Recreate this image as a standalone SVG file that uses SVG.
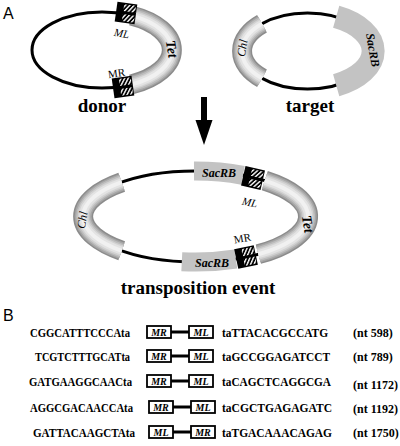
<svg xmlns="http://www.w3.org/2000/svg" xmlns:xlink="http://www.w3.org/1999/xlink" width="400" height="446" viewBox="0 0 400 446">
<style>
text{font-family:"Liberation Serif","Times New Roman",serif;fill:#000}
.lbl{font-family:"Liberation Sans",Arial,sans-serif;font-size:16px}
.big{font-size:19px;font-weight:bold;text-anchor:middle}
.gene{font-size:12px;font-style:italic;font-weight:bold;text-anchor:middle}
.mk{font-size:11px;text-anchor:middle}
.seq{font-size:12px;font-weight:bold}
.bx{fill:#fff;stroke:#000;stroke-width:1.8}
.bt{font-size:10px;font-style:italic;font-weight:bold;text-anchor:middle}
.ring{fill:none;stroke:#000;stroke-width:3}
.t1{fill:none;stroke:#8c8c8c;stroke-width:20}
.t2{fill:none;stroke:#a6a6a6;stroke-width:17}
.t3{fill:none;stroke:#bdbdbd;stroke-width:14}
.t4{fill:none;stroke:#d2d2d2;stroke-width:11}
.t5{fill:none;stroke:#e3e3e3;stroke-width:8}
.t6{fill:none;stroke:#f1f1f1;stroke-width:4}
.flat{fill:none;stroke:#c3c3c3}
.link{stroke:#000;stroke-width:3}
</style>
<defs>
<pattern id="hatch" patternUnits="userSpaceOnUse" width="3.2" height="3.2" patternTransform="rotate(35)">
<rect width="3.2" height="3.2" fill="#000"/>
<rect width="1.4" height="3.2" fill="#fff"/>
</pattern>
<g id="hbox">
<rect x="-10" y="-10" width="20" height="20" fill="#000"/>
<rect x="-3" y="-8.5" width="12" height="7" fill="url(#hatch)"/>
<rect x="-3" y="1.5" width="12" height="7" fill="url(#hatch)"/>
</g>
<path id="dTet" d="M131.6,15.6 A70,38 0 0 1 131.6,84.4"/>
<path id="tChl" d="M262,23.7 A65.5,38 0 0 0 262,78.3"/>
<path id="eChl" d="M121.7,182.2 A112.5,45.5 0 0 0 121.7,250.8"/>
<path id="eTet" d="M264.8,180.6 A112.5,45.5 0 0 1 258.4,254.2"/>
</defs>
<rect width="400" height="446" fill="#fff"/>
<text class="lbl" x="3" y="19">A</text>
<text class="lbl" x="3" y="321">B</text>

<g id="donor">
<ellipse class="ring" cx="102" cy="50" rx="70" ry="38"/>
<use xlink:href="#dTet" class="t1"/><use xlink:href="#dTet" class="t2"/><use xlink:href="#dTet" class="t3"/>
<use xlink:href="#dTet" class="t4"/><use xlink:href="#dTet" class="t5"/><use xlink:href="#dTet" class="t6"/>
<use xlink:href="#hbox" transform="translate(126,13) rotate(8)"/>
<use xlink:href="#hbox" transform="translate(123,87) rotate(-8)"/>
<text class="mk" font-style="italic" transform="translate(121,37) rotate(10)">ML</text>
<text class="mk" transform="translate(117,77) rotate(-8)">MR</text>
<text class="gene" font-size="14" transform="translate(172,49) rotate(80)" dy="0.35em" style="font-size:14px">Tet</text>
<text class="big" x="102" y="112">donor</text>
</g>

<g id="target">
<ellipse class="ring" cx="307.5" cy="51" rx="65.5" ry="38"/>
<use xlink:href="#tChl" class="t1"/><use xlink:href="#tChl" class="t2"/><use xlink:href="#tChl" class="t3"/>
<use xlink:href="#tChl" class="t4"/><use xlink:href="#tChl" class="t5"/><use xlink:href="#tChl" class="t6"/>
<path class="flat" stroke-width="23" d="M336.2,16.8 A65.5,38 0 0 1 336.2,85.2"/>
<text class="gene" style="font-weight:normal" transform="translate(242,48) rotate(-80)" dy="0.35em">Chl</text>
<text class="gene" transform="translate(373,50) rotate(80)" dy="0.35em">SacRB</text>
<text class="big" x="310" y="112">target</text>
</g>

<g id="transposition">
<ellipse class="ring" cx="195.5" cy="216.5" rx="112.5" ry="45.5"/>
<use xlink:href="#eChl" class="t1"/><use xlink:href="#eChl" class="t2"/><use xlink:href="#eChl" class="t3"/>
<use xlink:href="#eChl" class="t4"/><use xlink:href="#eChl" class="t5"/><use xlink:href="#eChl" class="t6"/>
<use xlink:href="#eTet" class="t1"/><use xlink:href="#eTet" class="t2"/><use xlink:href="#eTet" class="t3"/>
<use xlink:href="#eTet" class="t4"/><use xlink:href="#eTet" class="t5"/><use xlink:href="#eTet" class="t6"/>
<path class="flat" stroke-width="19" d="M194,171 A112.5,45.5 0 0 1 243,175.3"/>
<path class="flat" stroke-width="19" d="M235.8,259 A112.5,45.5 0 0 1 181.8,261.7"/>
<use xlink:href="#hbox" transform="translate(253,178) rotate(13)"/>
<use xlink:href="#hbox" transform="translate(246,257) rotate(-12)"/>
<text class="gene" x="219" y="177">SacRB</text>
<text class="gene" x="212" y="267">SacRB</text>
<text class="mk" font-style="italic" transform="translate(249,206) rotate(12)">ML</text>
<text class="mk" transform="translate(243,242) rotate(-10)">MR</text>
<text class="gene" style="font-size:14px" transform="translate(308,224) rotate(80)" dy="0.35em">Tet</text>
<text class="gene" style="font-weight:normal" transform="translate(82,220) rotate(-80)" dy="0.35em">Chl</text>
<text class="big" x="198" y="294">transposition event</text>
</g>

<g id="connectors">
<rect x="201" y="97" width="6" height="25" fill="#000"/>
<polygon points="195.5,120 212.5,120 204,145" fill="#000"/>
<line class="link" x1="171" y1="332" x2="189" y2="332"/>
<line class="link" x1="171" y1="356" x2="189" y2="356"/>
<line class="link" x1="171" y1="381" x2="189" y2="381"/>
<line class="link" x1="173" y1="407" x2="191" y2="407"/>
<line class="link" x1="173" y1="432" x2="191" y2="432"/>
</g>

<g id="row1">
<text class="seq" x="30" y="337" textLength="100" lengthAdjust="spacingAndGlyphs">CGGCATTTCCCAta</text>
<rect class="bx" x="147" y="326" width="24" height="12"/><text class="bt" x="159" y="336">MR</text>
<rect class="bx" x="189" y="326" width="24" height="12"/><text class="bt" x="201" y="336">ML</text>
<text class="seq" x="222" y="337" textLength="106" lengthAdjust="spacingAndGlyphs">taTTACACGCCATG</text>
<text class="seq" x="353" y="337">(nt 598)</text>
</g>
<g id="row2">
<text class="seq" x="35" y="361" textLength="95" lengthAdjust="spacingAndGlyphs">TCGTCTTTGCATta</text>
<rect class="bx" x="147" y="350" width="24" height="12"/><text class="bt" x="159" y="360">MR</text>
<rect class="bx" x="189" y="350" width="24" height="12"/><text class="bt" x="201" y="360">ML</text>
<text class="seq" x="222" y="361" textLength="108" lengthAdjust="spacingAndGlyphs">taGCCGGAGATCCT</text>
<text class="seq" x="353" y="361">(nt 789)</text>
</g>
<g id="row3">
<text class="seq" x="29" y="386" textLength="103" lengthAdjust="spacingAndGlyphs">GATGAAGGCAACta</text>
<rect class="bx" x="147" y="375" width="24" height="12"/><text class="bt" x="159" y="385">MR</text>
<rect class="bx" x="189" y="375" width="24" height="12"/><text class="bt" x="201" y="385">ML</text>
<text class="seq" x="222" y="386" textLength="109" lengthAdjust="spacingAndGlyphs">taCAGCTCAGGCGA</text>
<text class="seq" x="353" y="389">(nt 1172)</text>
</g>
<g id="row4">
<text class="seq" x="30" y="412" textLength="103" lengthAdjust="spacingAndGlyphs">AGGCGACAACCAta</text>
<rect class="bx" x="149" y="401" width="24" height="12"/><text class="bt" x="161" y="411">MR</text>
<rect class="bx" x="191" y="401" width="24" height="12"/><text class="bt" x="203" y="411">ML</text>
<text class="seq" x="222" y="412" textLength="110" lengthAdjust="spacingAndGlyphs">taCGCTGAGAGATC</text>
<text class="seq" x="353" y="413">(nt 1192)</text>
</g>
<g id="row5">
<text class="seq" x="33" y="437" textLength="102" lengthAdjust="spacingAndGlyphs">GATTACAAGCTAta</text>
<rect class="bx" x="149" y="426" width="24" height="12"/><text class="bt" x="161" y="436">ML</text>
<rect class="bx" x="191" y="426" width="24" height="12"/><text class="bt" x="203" y="436">MR</text>
<text class="seq" x="222" y="437" textLength="110" lengthAdjust="spacingAndGlyphs">taTGACAAACAGAG</text>
<text class="seq" x="353" y="437">(nt 1750)</text>
</g>
</svg>
